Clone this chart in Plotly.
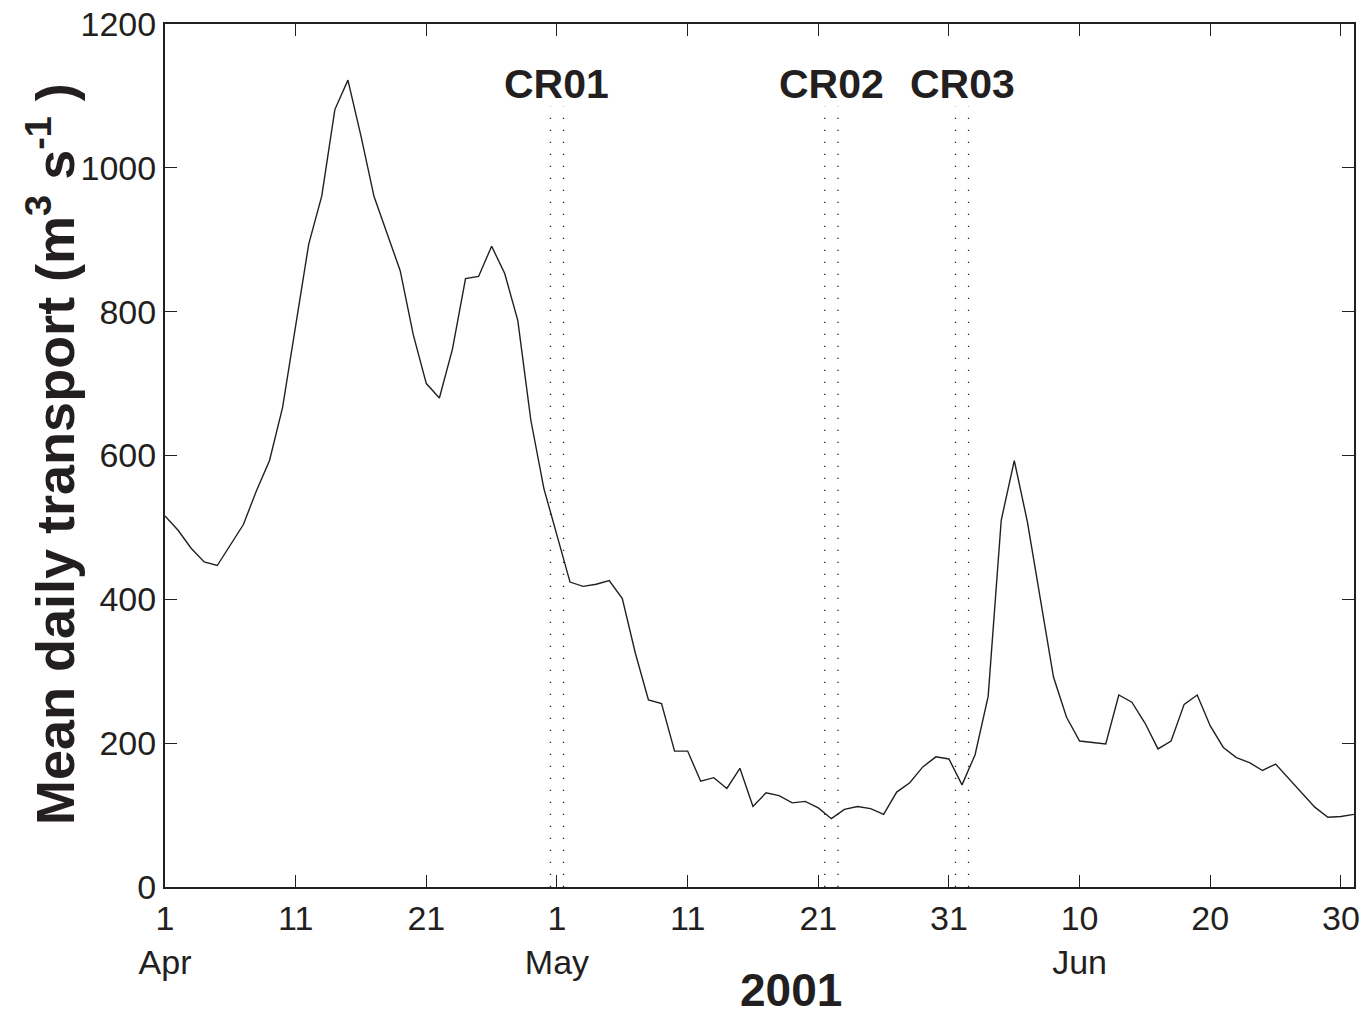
import pandas as pd
import plotly.graph_objects as go

# ---- data ----
start_date = "2001-04-01"
transport = [
    516, 496, 471, 452, 447, 476, 504, 551, 593, 667,
    778, 894, 961, 1081, 1122, 1044, 960, 909, 857, 768,
    700, 680, 748, 846, 849, 891, 853, 788, 649, 554,
    487, 424, 418, 421, 426, 401, 325, 260, 255, 189,
    189, 147, 152, 137, 165, 112, 131, 127, 117, 119,
    110, 95, 108, 112, 109, 101, 132, 145, 167, 181,
    178, 142, 184, 265, 510, 593, 508, 402, 292, 236,
    203, 201, 199, 267, 257, 228, 192, 203, 254, 267,
    224, 194, 180, 173, 162, 171, 151, 131, 111, 97,
    98, 101,
]
dates = pd.date_range(start_date, periods=len(transport), freq="D")

cruise_names = ["CR01", "CR02", "CR03"]
cruise_starts = ["2001-04-30 12:00", "2001-05-21 12:00", "2001-05-31 12:00"]
cruise_ends = ["2001-05-01 12:00", "2001-05-22 12:00", "2001-06-01 12:00"]
cruise_centers = ["2001-05-01 00:00", "2001-05-22 00:00", "2001-06-01 00:00"]
cruise_line_top = 1085
cruise_label_y = 1117

tick_dates = ["2001-04-01", "2001-04-11", "2001-04-21", "2001-05-01", "2001-05-11",
              "2001-05-21", "2001-05-31", "2001-06-10", "2001-06-20", "2001-06-30"]
tick_text = ["1<br>Apr", "11", "21", "1<br>May", "11", "21", "31", "10<br>Jun", "20", "30"]
y_ticks = [0, 200, 400, 600, 800, 1000, 1200]

INK = "#231f20"
FONT = "Liberation Sans, Arial, Helvetica, sans-serif"

fig = go.Figure()

# cruise dotted lines
for s, e in zip(cruise_starts, cruise_ends):
    for t in (s, e):
        fig.add_trace(go.Scatter(
            x=[t, t], y=[0, cruise_line_top], mode="lines",
            line=dict(color=INK, width=1.3, dash="1.3px,10.7px"),
            hoverinfo="skip", showlegend=False))

fig.add_trace(go.Scatter(
    x=dates, y=transport, mode="lines",
    line=dict(color=INK, width=1.4),
    showlegend=False, name="transport"))

for name, c in zip(cruise_names, cruise_centers):
    fig.add_annotation(x=c, y=cruise_label_y, xref="x", yref="y", text=f"<b>{name}</b>",
                       showarrow=False, font=dict(family=FONT, size=41, color=INK),
                       xanchor="center", yanchor="middle")

fig.add_annotation(x=(791 - 165) / 1189, y=-(990 - 887) / 863, xref="paper", yref="paper",
                   text="<b>2001</b>", showarrow=False,
                   font=dict(family=FONT, size=46, color=INK),
                   xanchor="center", yanchor="middle")
fig.add_annotation(x=(51 - 165) / 1189, y=(887 - 454) / 863, xref="paper", yref="paper",
                   text="<b>Mean daily transport (m<sup>3</sup> s<sup>-1</sup> )</b>",
                   textangle=-90, showarrow=False,
                   font=dict(family=FONT, size=54, color=INK),
                   xanchor="center", yanchor="middle")

axis_common = dict(
    showline=True, linecolor=INK, linewidth=2, mirror="ticks",
    ticks="inside", ticklen=12, tickwidth=1.3, tickcolor=INK,
    showgrid=False, zeroline=False, automargin=False,
    tickfont=dict(family=FONT, size=34, color=INK),
)

fig.update_layout(
    template="none",
    width=1372, height=1015,
    margin=dict(l=165, r=18, t=24, b=128, pad=0, autoexpand=False),
    paper_bgcolor="white", plot_bgcolor="white",
    xaxis=dict(range=["2001-04-01", "2001-07-01"], tickvals=tick_dates, ticktext=tick_text,
               **axis_common),
    yaxis=dict(range=[0, 1200], tickvals=y_ticks, **axis_common),
    showlegend=False,
)

fig.write_html(
    "out.html",
    config={"displayModeBar": False},
    post_script="document.body.style.margin='0';document.body.style.overflow='hidden';",
)
